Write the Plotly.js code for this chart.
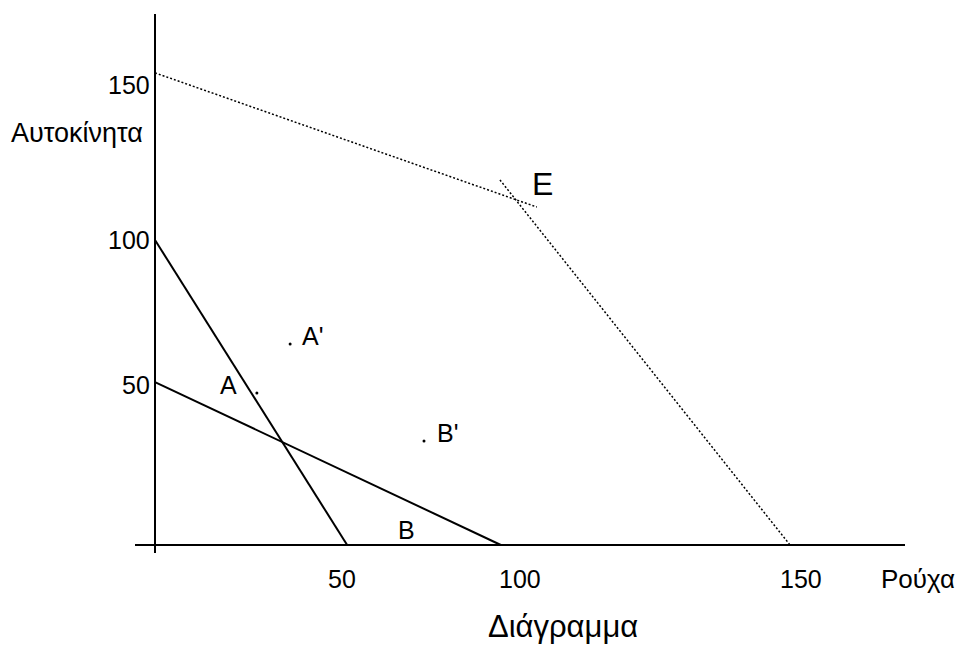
<!DOCTYPE html>
<html><head><meta charset="utf-8">
<script src="https://cdn.plot.ly/plotly-3.0.1.min.js"></script>
<style>html,body{margin:0;padding:0;background:#fff}#chart{width:956px;height:646px}</style>
</head><body><div id="chart"></div>
<script>
// Solid constraint lines
const line1X = [0, 63];
const line1Y = [100, 0];
const line2X = [0, 113.4];
const line2Y = [53.4, 0];
// Dotted frontier segments
const frontier1X = [0, 125.2];
const frontier1Y = [154.8, 110.8];
const frontier2X = [113.1, 208.2];
const frontier2Y = [119.7, 0];
// Marked points
const pointNames = ["A'", "A", "B'"];
const pointX = [44.3, 33.4, 88.2];
const pointY = [65.9, 49.8, 34.1];
// Region / intersection labels
const regionNames = ["B", "E"];
const regionX = [82.6, 127.0];
const regionY = [4.9, 118.4];
// Tick labels
const xTickVals = [61.3, 119.7, 211.8];
const xTickText = ["50", "100", "150"];
const yTickVals = [52.4, 100, 150.9];
const yTickText = ["50", "100", "150"];
const xTitle = "Ρούχα";
const yTitle = "Αυτοκίνητα";
const chartTitle = "Διάγραμμα";

const FONT = "Liberation Sans, Arial, sans-serif";
const solid = {color: "black", width: 2};
const dotted = {color: "black", width: 1.5, dash: "2px,2px"};

const traces = [
  {x: line1X, y: line1Y, mode: "lines", line: solid},
  {x: line2X, y: line2Y, mode: "lines", line: solid},
  {x: frontier1X, y: frontier1Y, mode: "lines", line: dotted},
  {x: frontier2X, y: frontier2Y, mode: "lines", line: dotted},
  {x: pointX, y: pointY, mode: "markers", marker: {color: "black", size: 3}}
];

const ann = [];
const txt = (o, size) => Object.assign({showarrow: false, font: {family: FONT, size: size || 25, color: "black"}}, o);
const pointLabelCfg = {
  "A'": {xanchor: "left", xshift: 10, yshift: 8},
  "A":  {xanchor: "right", xshift: -18, yshift: 8},
  "B'": {xanchor: "left", xshift: 11, yshift: 8}
};
pointNames.forEach((n, i) => ann.push(txt(Object.assign({x: pointX[i], y: pointY[i], text: n, yanchor: "middle"}, pointLabelCfg[n]))));
regionNames.forEach((n, i) => {
  ann.push(txt({x: regionX[i], y: regionY[i], text: n, xanchor: "center", yanchor: "middle"}, n === "E" ? 32 : 25));
});
xTickVals.forEach((v, i) => ann.push(txt({x: v, y: 0, text: xTickText[i], xanchor: "center", yanchor: "middle", yshift: -34})));
yTickVals.forEach((v, i) => ann.push(txt({x: 0, y: v, text: yTickText[i], xanchor: "right", yanchor: "middle", xshift: -3})));
ann.push(txt({x: 238.4, y: 0, text: xTitle, xanchor: "left", yanchor: "middle", yshift: -34, xshift: -3}, 26));
ann.push(txt({x: 0, y: 135.1, text: yTitle, xanchor: "right", yanchor: "middle", xshift: -10}, 27));

const axisBase = {showgrid: false, zeroline: true, zerolinecolor: "black", zerolinewidth: 2,
  showticklabels: false, ticks: "", showline: false, fixedrange: true};

const layout = {
  width: 956, height: 646,
  margin: {l: 135, r: 51, t: 14, b: 93},
  paper_bgcolor: "white", plot_bgcolor: "white",
  showlegend: false, hovermode: false,
  title: {text: chartTitle, x: 0.589, xref: "container", xanchor: "center",
          y: 0.031, yref: "container", yanchor: "middle",
          font: {family: FONT, size: 31, color: "black"}},
  xaxis: Object.assign({range: [-6.557, 245.9]}, axisBase),
  yaxis: Object.assign({range: [-2.623, 174.1]}, axisBase),
  annotations: ann
};
Plotly.newPlot("chart", traces, layout, {displayModeBar: false, staticPlot: true});
</script></body></html>
